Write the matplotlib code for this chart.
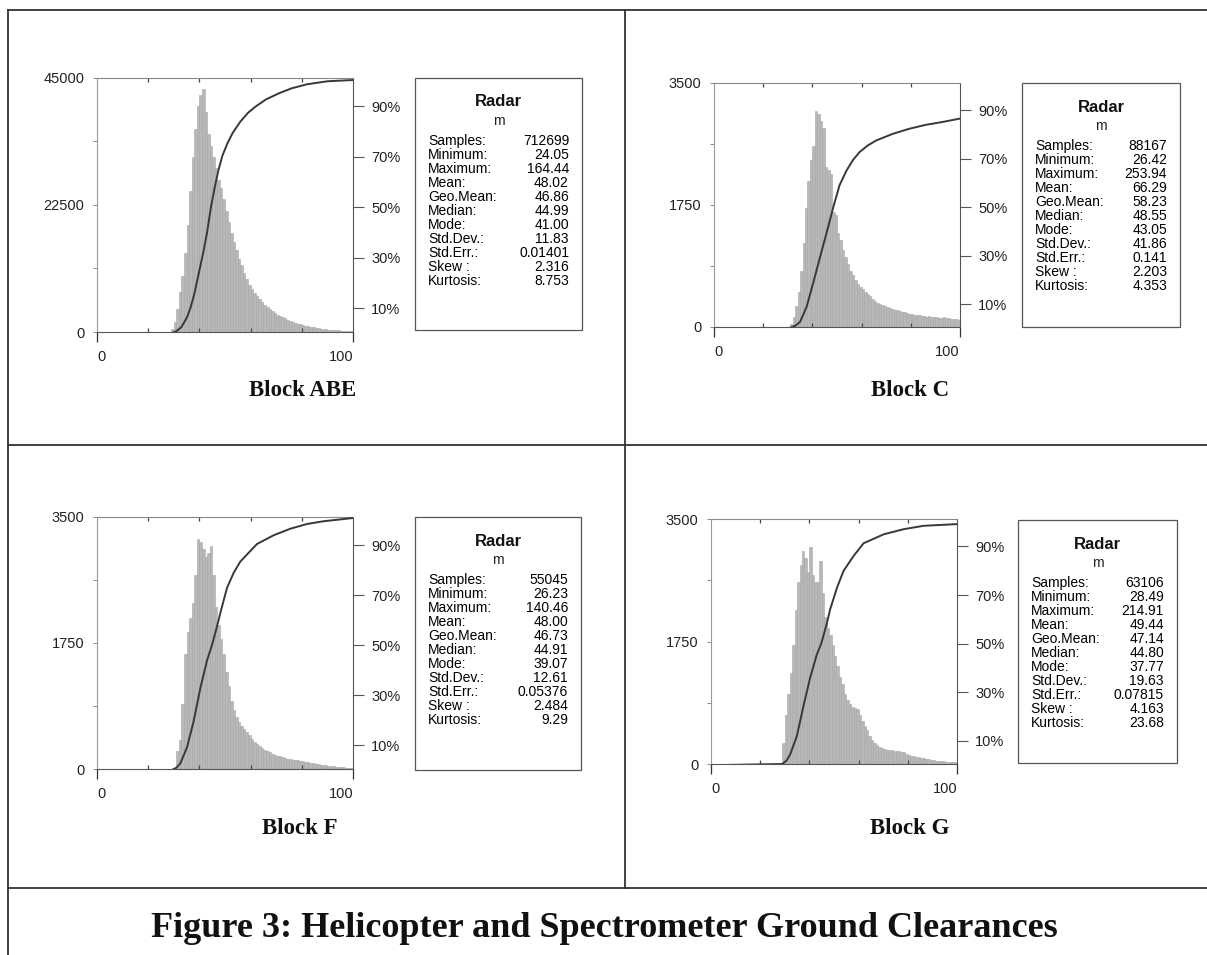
import numpy as np
import matplotlib
matplotlib.use("Agg")
import matplotlib.pyplot as plt
from matplotlib.patches import Rectangle
from matplotlib.lines import Line2D

W, H = 1207, 955

# ---- histogram data (1 m bins, counts) ----
edges_abe = list(range(28, 100))
counts_abe = [0, 600, 1800, 4000, 7000, 10000, 14000, 19000, 25000, 31000,
              36000, 40000, 42000, 43000, 39000, 35000, 33000, 31000, 29000, 27000,
              25500, 23500, 21500, 19500, 17500, 16000, 14500, 13000, 11800, 10500,
              9400, 8400, 7600, 6900, 6300, 5800, 5300, 4800, 4400, 4000,
              3700, 3400, 3100, 2850, 2600, 2400, 2200, 2000, 1800, 1650,
              1500, 1350, 1200, 1100, 1000, 900, 800, 720, 650, 580,
              520, 470, 420, 380, 340, 300, 270, 240, 220, 200,
              180, 160]

edges_c = list(range(30, 100))
counts_c = [0, 50, 150, 300, 500, 800, 1200, 1700, 2100, 2400,
            2600, 3100, 3050, 2950, 2850, 2300, 2250, 2200, 1650, 1600,
            1350, 1250, 1100, 1000, 900, 800, 740, 680, 620, 580,
            540, 500, 470, 440, 400, 370, 350, 330, 310, 300,
            290, 270, 260, 250, 240, 230, 220, 210, 200, 190,
            180, 175, 170, 165, 160, 155, 150, 160, 150, 145,
            140, 135, 130, 140, 130, 125, 120, 115, 110, 105]

edges_f = list(range(30, 100))
counts_f = [0, 250, 400, 900, 1600, 1900, 2100, 2300, 2700, 3200,
            3150, 3050, 2950, 3000, 3100, 2700, 2250, 2000, 1800, 1600,
            1350, 1150, 950, 820, 720, 650, 600, 560, 520, 470,
            420, 380, 350, 320, 290, 270, 250, 230, 215, 200,
            185, 175, 165, 155, 145, 140, 130, 125, 120, 110,
            105, 100, 95, 90, 80, 70, 65, 60, 55, 50,
            45, 40, 35, 30, 28, 25, 22, 20, 18, 15]

edges_g = list(range(28, 100))
counts_g = [0, 300, 700, 1000, 1300, 1700, 2200, 2600, 2850, 3050,
            2950, 2750, 3100, 2700, 2600, 2600, 2900, 2450, 2100, 1950,
            1850, 1700, 1550, 1400, 1250, 1150, 1000, 920, 860, 820,
            800, 780, 700, 620, 550, 480, 400, 340, 300, 270,
            250, 230, 215, 205, 200, 195, 190, 185, 180, 175,
            170, 150, 135, 120, 110, 105, 95, 85, 80, 70,
            65, 60, 55, 50, 45, 40, 38, 35, 33, 30,
            28, 25]

# ---- cumulative curves (percent) ----
cum_x_abe = [0, 29, 31, 33, 35, 36.5, 38, 40, 41.5, 43, 44.5, 46, 47.5, 49, 51,
             53, 56, 59, 62, 66, 71, 76, 82, 90, 100]
cum_p_abe = [0, 0, 0.8, 2.5, 6, 10, 15.5, 25, 32, 40, 50, 58, 65, 70.5, 75.5,
             79.5, 84, 87.5, 90, 92.8, 95.2, 97.2, 98.8, 100, 100.5]

cum_x_c = [0, 30.5, 33, 35, 37.7, 40.4, 43, 45.8, 48.5, 51, 53.8, 56.5, 59.2,
           62.5, 66, 72.7, 79.4, 86, 92.9, 100]
cum_p_c = [0, 0, 1, 2.6, 9, 19, 29, 39.5, 50, 59, 65, 69.5, 72.8, 75.5, 77.6,
           80.3, 82.4, 84, 85.2, 86.6]

cum_x_f = [0, 29, 31, 32.6, 35.2, 37.8, 40.4, 43, 44.9, 47, 48.2, 50.8, 53.4,
           56, 62.5, 69, 75.5, 82, 88.5, 100]
cum_p_f = [0, 0, 1, 2.8, 9.3, 19.8, 33, 44, 50, 58, 63, 73, 79, 83.5, 90.5,
           94, 96.6, 98.5, 99.6, 100.9]

cum_x_g = [0, 29, 30.8, 32.2, 34.9, 37.6, 40.3, 43, 44.8, 47, 48.4, 51.2,
           53.9, 57.9, 62, 70.2, 78.3, 86.4, 100]
cum_p_g = [0, 0.5, 2, 4.5, 12, 24.4, 36, 45.5, 50, 58, 64, 73, 80, 86,
           91.3, 95, 97.1, 98.5, 99.2]

# ---- statistics boxes ----
stat_names = ["Samples:", "Minimum:", "Maximum:", "Mean:", "Geo.Mean:", "Median:",
              "Mode:", "Std.Dev.:", "Std.Err.:", "Skew :", "Kurtosis:"]
stats_abe = ["712699", "24.05", "164.44", "48.02", "46.86", "44.99", "41.00",
             "11.83", "0.01401", "2.316", "8.753"]
stats_c = ["88167", "26.42", "253.94", "66.29", "58.23", "48.55", "43.05",
           "41.86", "0.141", "2.203", "4.353"]
stats_f = ["55045", "26.23", "140.46", "48.00", "46.73", "44.91", "39.07",
           "12.61", "0.05376", "2.484", "9.29"]
stats_g = ["63106", "28.49", "214.91", "49.44", "47.14", "44.80", "37.77",
           "19.63", "0.07815", "4.163", "23.68"]

ymax_abe = 45000
ymax_small = 3500

SANS = "Liberation Sans"
SERIF = "Liberation Serif"

fig = plt.figure(figsize=(W / 100, H / 100), dpi=100)


def px_rect(l, t, r, b):
    return [l / W, 1 - b / H, (r - l) / W, (b - t) / H]


def fx(x):
    return x / W


def fy(y):
    return 1 - y / H


def draw_hist(rect, edges, counts, ymax, cx, cp):
    ax = fig.add_axes(px_rect(*rect))
    ax.bar(edges, counts, width=1.0, align="edge", color="#b8b8b8",
           edgecolor="#a6a6a6", linewidth=0.4)
    ax.set_xlim(0, 100)
    ax.set_ylim(0, ymax)
    ax.set_yticks([0, ymax / 2, ymax])
    ax.set_yticklabels([str(0), str(int(ymax / 2)), str(ymax)],
                       fontsize=10.5, family=SANS, color="#222222")
    ax.set_yticks([ymax / 4, ymax * 3 / 4], minor=True)
    ax.tick_params(axis="y", which="both", direction="out", length=3,
                   width=0.6, color="#777777", pad=6)
    ax.set_xticks([0, 100])
    ax.set_xticklabels(["0", "100"], fontsize=10.5, family=SANS, color="#222222")
    labs = ax.get_xticklabels()
    labs[0].set_horizontalalignment("left")
    labs[1].set_horizontalalignment("right")
    ax.set_xticks([20, 40, 60, 80], minor=True)
    ax.tick_params(axis="x", which="major", direction="out", length=7,
                   width=0.9, color="#333333", pad=6)
    ax.tick_params(axis="x", which="minor", direction="in", length=3,
                   width=0.9, color="#444444", top=True)
    for s in ax.spines.values():
        s.set_linewidth(0.8)
        s.set_color("#555555")
    ax.spines["top"].set_color("#888888")
    ax.spines["left"].set_color("#999999")

    ax2 = ax.twinx()
    ax2.plot(cx, cp, color="#383838", lw=1.4)
    ax2.set_xlim(0, 100)
    ax2.set_ylim(0.5, 101.3)
    ax2.set_yticks([10, 30, 50, 70, 90])
    ax2.set_yticklabels(["10%", "30%", "50%", "70%", "90%"], fontsize=10.5,
                        family=SANS, color="#222222")
    ax2.tick_params(axis="y", direction="out", length=8, width=0.8,
                    color="#555555", pad=5)
    for s in ax2.spines.values():
        s.set_visible(False)
    return ax


def draw_box(l, t, r, b, vals):
    fig.patches.append(Rectangle((fx(l), fy(b)), fx(r - l), (b - t) / H,
                                 transform=fig.transFigure, fill=False,
                                 edgecolor="#555555", linewidth=0.9))
    cx = (l + r) / 2
    fig.text(fx(cx), fy(t + 24), "Radar", ha="center", va="center",
             fontsize=12, fontweight="bold", family=SANS, color="#111111")
    fig.text(fx(cx), fy(t + 43), "m", ha="center", va="center",
             fontsize=10, family=SANS, color="#222222")
    for i, (name, v) in enumerate(zip(stat_names, vals)):
        y = t + 63 + i * 14
        fig.text(fx(l + 13), fy(y), name, ha="left", va="center",
                 fontsize=10, family=SANS, color="#000000")
        fig.text(fx(r - 13), fy(y), v, ha="right", va="center",
                 fontsize=10, family=SANS, color="#000000")


draw_hist((97, 78, 353, 332), edges_abe, counts_abe, ymax_abe, cum_x_abe, cum_p_abe)
draw_box(415, 78, 582, 330, stats_abe)

draw_hist((714, 83, 960, 327), edges_c, counts_c, ymax_small, cum_x_c, cum_p_c)
draw_box(1022, 83, 1180, 327, stats_c)

draw_hist((97, 517, 353, 769), edges_f, counts_f, ymax_small, cum_x_f, cum_p_f)
draw_box(415, 517, 581, 770, stats_f)

draw_hist((711, 519, 957, 764), edges_g, counts_g, ymax_small, cum_x_g, cum_p_g)
draw_box(1018, 520, 1177, 763, stats_g)

# block titles
for txt, x, y in [("Block ABE", 303, 390), ("Block C", 910, 390),
                  ("Block F", 300, 829), ("Block G", 910, 829)]:
    fig.text(fx(x), fy(y), txt, ha="center", va="center", fontsize=16.5,
             fontweight="bold", family=SERIF, color="#111111")

fig.text(fx(604), fy(928), "Figure 3: Helicopter and Spectrometer Ground Clearances",
         ha="center", va="center", fontsize=26, fontweight="bold", family=SERIF,
         color="#111111")

# frame lines of the table
frame = [((8, 8), (10, 955)), ((8, 1207), (10, 10)), ((625, 625), (10, 888)),
         ((8, 1207), (445, 445)), ((8, 1207), (888, 888))]
for xs, ys in frame:
    fig.lines.append(Line2D([fx(xs[0]), fx(xs[1])], [fy(ys[0]), fy(ys[1])],
                            transform=fig.transFigure, color="#333333", lw=1.3))

fig.savefig("out.png", dpi=100)
